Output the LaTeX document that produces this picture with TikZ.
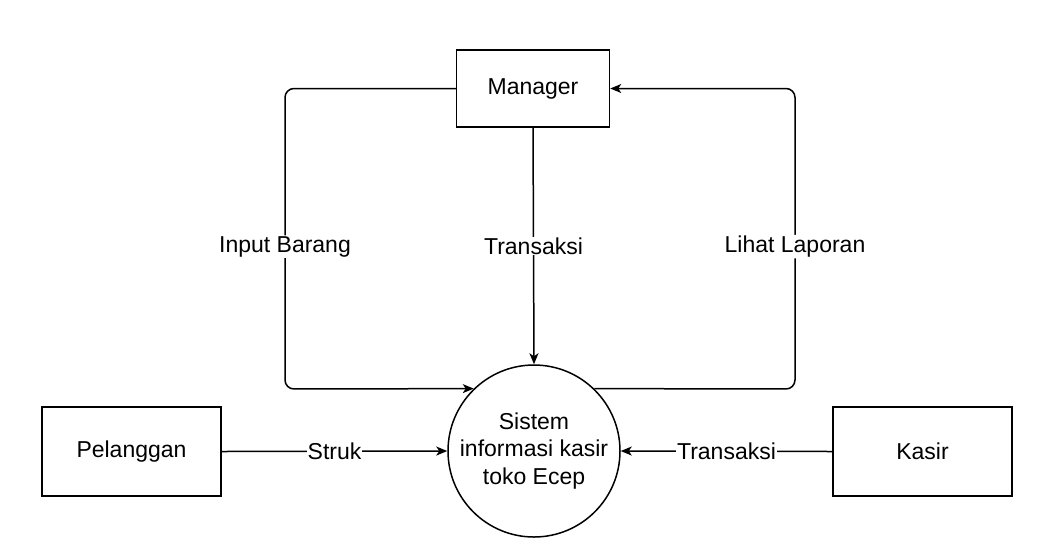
\documentclass[tikz,border=0pt]{standalone}
\usepackage{fontspec}
\setmainfont{Liberation Sans}
\usepackage{tikz}
\usetikzlibrary{arrows.meta,positioning}

\begin{document}
\begin{tikzpicture}[x=1pt,y=-1pt,
  every node/.style={font=\fontsize{23}{27.5}\selectfont},
  ent/.style={draw,line width=1.5pt,minimum width=179pt,minimum height=89pt},
  proc/.style={draw,circle,line width=1.5pt,minimum size=172pt,inner sep=0pt,align=center},
  flow/.style={line width=1.5pt,-{Stealth[length=11pt,width=9pt,inset=3pt]}},
  lbl/.style={fill=white,inner sep=1pt}]
\useasboundingbox (0,0) rectangle (1051,550);
% entitas dan proses
\node[proc] (sis) at (534,451) {Sistem\\informasi kasir\\toko Ecep};
\node[ent,minimum width=153pt,minimum height=77pt] (mgr) at (533,88.5) {Manager};
\node[ent] (plg) at (131.5,451.5) {Pelanggan};
\node[ent] (ksr) at (922.5,451.5) {Kasir};
% titik belok
\coordinate (ibA) at (285,88.5);
\coordinate (ibB) at (285,389);
\coordinate (llA) at (795,389);
\coordinate (llB) at (795,88.5);
% aliran data
\draw[flow,rounded corners=9pt] (mgr.west) -- (ibA) -- node[lbl,pos=0.526] {Input Barang} (ibB) -- (sis.134);
\draw[flow] (mgr.south) -- node[lbl] {Transaksi} (sis.north);
\draw[flow,rounded corners=9pt] (sis.46) -- (llA) -- node[lbl,pos=0.474] {Lihat Laporan} (llB) -- (mgr.east);
\draw[flow] (plg.east) -- node[lbl] {Struk} (sis.west);
\draw[flow] (ksr.west) -- node[lbl] {Transaksi} (sis.east);
\end{tikzpicture}
\end{document}
